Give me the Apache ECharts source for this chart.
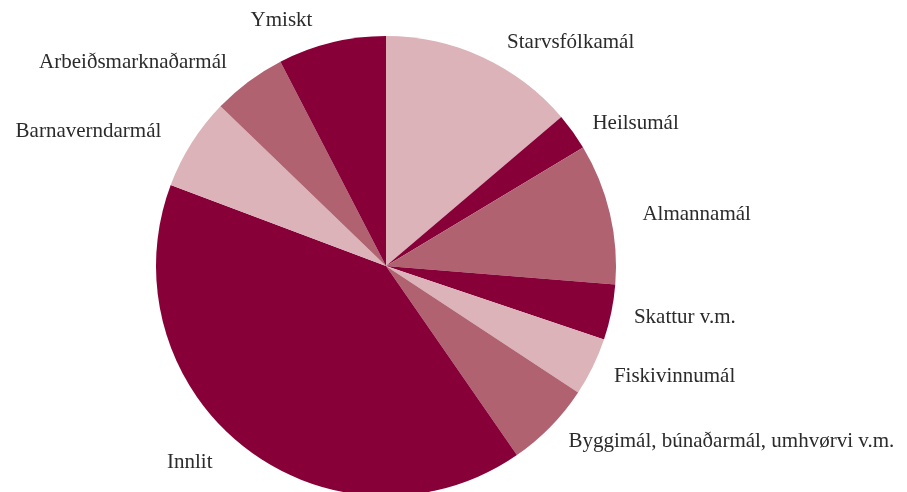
<!DOCTYPE html>
<html>
<head>
<meta charset="utf-8">
<script src="https://cdn.jsdelivr.net/npm/echarts@6/dist/echarts.min.js"></script>
<style>
html,body{margin:0;padding:0;background:#fff;}
#pie{width:907px;height:492px;}
</style>
</head>
<body>
<div id="pie"></div>
<script>
var names = ["Starvsfólkamál","Heilsumál","Almannamál","Skattur v.m.","Fiskivinnumál","Byggimál, búnaðarmál, umhvørvi v.m.","Innlit","Barnaverndarmál","Arbeiðsmarknaðarmál","Ymiskt"];
var values = [13.8, 2.6, 9.9, 3.9, 4.1, 6.1, 40.4, 6.5, 5.2, 7.6];
var colours = ["#dbb3b8","#870038","#b06271","#870038","#dbb3b8","#b06271","#870038","#dbb3b8","#b06271","#870038"];
// small nudges of each label, to sit them as in the original
var labelNudge = [[12,2],[0,2],[10,5],[0,2],[0,2],[0,2],[-16,1],[-10,-2],[-6,-5],[-10,-5]];

var pieData = [];
for(var i=0;i<names.length;i++){
	pieData.push({name:names[i], value:values[i], itemStyle:{color:colours[i]}});
}

var myChart = echarts.init(document.getElementById('pie'));
var option = {
	animation:false,
	series:[{
		type:'pie',
		center:[386,266],
		radius:230,
		startAngle:90,
		clockwise:true,
		avoidLabelOverlap:false,
		label:{
			show:true,
			position:'outside',
			fontFamily:'Liberation Serif',
			fontSize:21,
			color:'#2b2b2b'
		},
		labelLine:{show:false,length:18,length2:0},
		labelLayout:function(p){
			var n = labelNudge[p.dataIndex];
			return {x:p.labelRect.x + (p.labelRect.x < 386 ? p.labelRect.width : 0) + n[0], y:p.labelRect.y + p.labelRect.height/2 + n[1]};
		},
		itemStyle:{borderWidth:0},
		data:pieData
	}]
};
myChart.setOption(option);
</script>
</body>
</html>
